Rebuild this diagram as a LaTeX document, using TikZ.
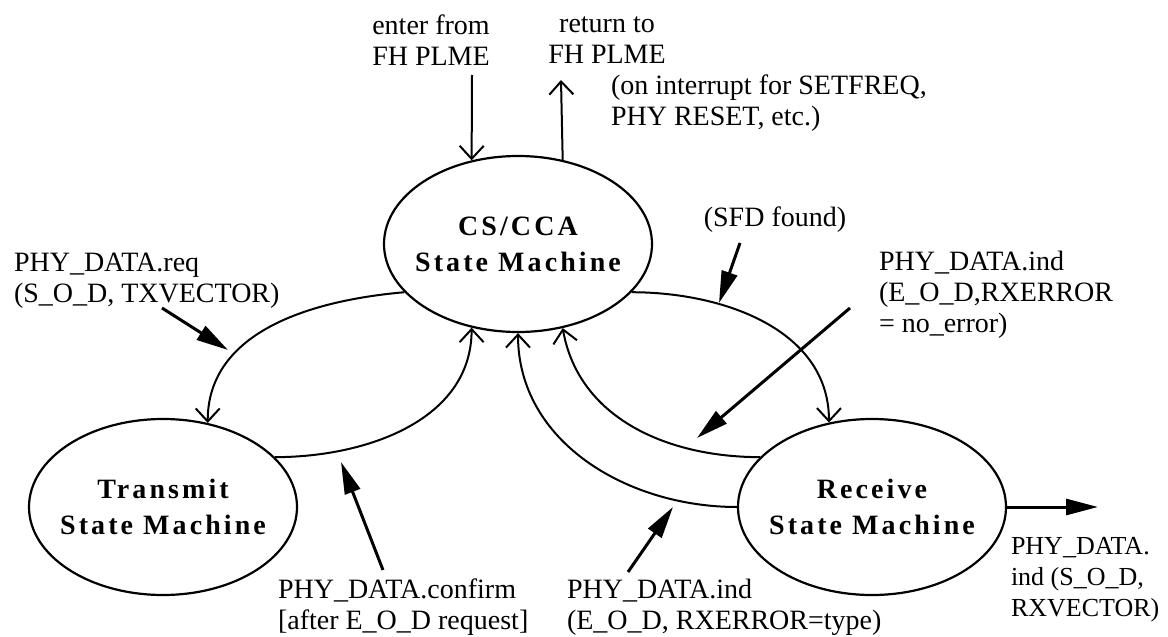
\documentclass[tikz,border=0pt]{standalone}
\usepackage{fontspec}
\setmainfont{Liberation Serif}
\usepackage{tikz}
\usetikzlibrary{
    arrows.meta,
    shapes.geometric,
    automata
}

\begin{document}
\begin{tikzpicture}[x=0.5pt,y=-0.5pt,->,>={Straight Barb[length=6.5pt,width=12pt]},line width=1pt,
    font=\fontsize{14}{15.5}\selectfont]
    \tikzstyle{every state}=[shape=ellipse, minimum width=134pt, minimum height=88pt, inner sep=0pt, line width=1.1pt]
    \tikzstyle{statetext}=[align=center, font=\fontsize{14}{18}\selectfont\bfseries\addfontfeatures{LetterSpace=11}]
    \tikzstyle{txt}=[align=left, inner sep=0pt, anchor=west]
    \tikzstyle{hint}=[-{Triangle[length=16pt,width=8pt]}, line width=1.5pt]
    \useasboundingbox (0,0) rectangle (1168,637);
    \node[state, label={[statetext]center:CS/CCA\\State Machine}] (cs) at (518, 244) {};
    \node[state, label={[statetext]center:Transmit\\State Machine}] (tx) at (163, 507) {};
    \node[state, label={[statetext]center:Receive\\State Machine}] (rx) at (872, 507) {};
    \node[align=center, inner sep=0pt] (enter) at (431, 40) {enter from\\FH PLME};
    \node[align=center, inner sep=0pt] (ret) at (607, 40) {return to\\FH PLME};
    \node[txt] (intr) at (610, 103) {(on interrupt for SETFREQ,\\PHY RESET, etc.)};
    \node[txt] (req) at (13, 281) {PHY\_DATA.req\\(S\_O\_D, TXVECTOR)};
    \node[inner sep=0pt] (sfd) at (775, 220) {(SFD found)};
    \node[txt] (noerr) at (878, 295) {PHY\_DATA.ind\\(E\_O\_D,RXERROR\\= no\_error)};
    \node[txt] (conf) at (277, 607) {PHY\_DATA.confirm\\{[after E\_O\_D request]}};
    \node[txt] (err) at (566, 607) {PHY\_DATA.ind\\(E\_O\_D, RXERROR=type)};
    \node[txt, font=\fontsize{13}{15.5}\selectfont] (out) at (1010, 580) {PHY\_DATA.\\ind (S\_O\_D,\\RXVECTOR)};
    % enter / leave
    \coordinate (enterA) at (472, 75);
    \coordinate (retA) at (561, 80);
    \draw (enterA) -- (cs.119);
    \draw (cs.62.5) -- (retA);
    % transitions
    \path (cs.203) edge [out=185, in=90] (tx.62);
    \path (tx.24) edge [out=0, in=270] (cs.241);
    \path (cs.337) edge [out=0, in=90] (rx.117);
    \path (rx.156) edge [out=180, in=280] (cs.298);
    \path (rx.west) edge [out=180, in=270] (cs.south);
    % pointers from the labels
    \coordinate (reqS) at (162, 308);
    \coordinate (reqT) at (228, 350);
    \coordinate (sfdS) at (740, 243);
    \coordinate (sfdT) at (719, 303);
    \coordinate (noerrS) at (850, 308);
    \coordinate (noerrT) at (697, 438);
    \coordinate (confS) at (383, 570);
    \coordinate (confT) at (341, 462);
    \coordinate (errS) at (628, 572);
    \coordinate (errT) at (673, 507);
    \coordinate (outT) at (1098, 507);
    \draw[hint] (reqS) -- (reqT);
    \draw[hint] (sfdS) -- (sfdT);
    \draw[hint] (noerrS) -- (noerrT);
    \draw[hint] (confS) -- (confT);
    \draw[hint] (errS) -- (errT);
    \draw[hint] (rx.east) -- (outT);
\end{tikzpicture}
\end{document}
